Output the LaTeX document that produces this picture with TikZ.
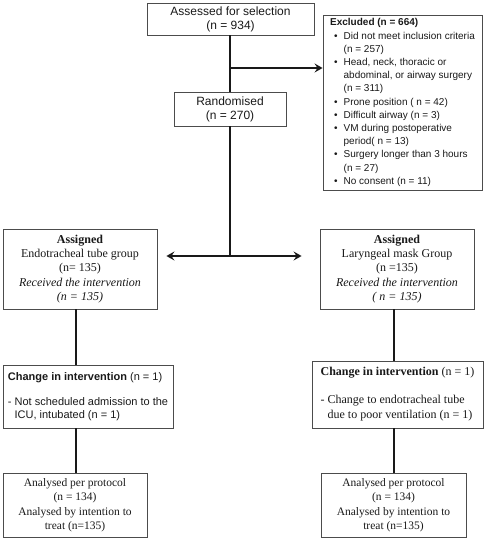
\documentclass[tikz,border=0pt]{standalone}
\usepackage{fontspec}
\setmainfont{Liberation Serif}
\newfontfamily\arialf{Liberation Sans}
\usetikzlibrary{arrows.meta}
\begin{document}
\begin{tikzpicture}[x=1pt,y=1pt,
  box/.style={draw=black!70, line width=0.9pt, inner sep=2pt, align=center, text=black!90},
  sansbox/.style={box, font=\arialf\fontsize{12}{14}\selectfont},
  serifbox/.style={box, font=\fontsize{12}{14.4}\selectfont},
  conn/.style={line width=2.2pt, draw=black!90},
  arr/.style={conn, -{Stealth[length=8pt,width=9pt,inset=3pt]}},
]
\useasboundingbox (0,0) rectangle (485,540);

% top
\node[sansbox, minimum width=167, minimum height=32] (assess) at (230.5,521) {Assessed for selection\\(n = 934)};
\node[sansbox, minimum width=112, minimum height=34] (rand) at (230,431) {Randomised\\(n = 270)};
\node[box, minimum width=159, minimum height=175, inner sep=0pt, font=\arialf\fontsize{10}{13.2}\selectfont] (excl) at (402.5,437.5) {%
\begin{tabular}{@{}l@{\hspace{6pt}}l@{}}
\multicolumn{2}{@{}l}{\textbf{Excluded (n = 664)}}\\
\hspace{4pt}\textbullet & Did not meet inclusion criteria\\
 & (n = 257)\\
\hspace{4pt}\textbullet & Head, neck, thoracic or\\
 & abdominal, or airway surgery\\
 & (n = 311)\\
\hspace{4pt}\textbullet & Prone position ( n = 42)\\
\hspace{4pt}\textbullet & Difficult airway (n = 3)\\
\hspace{4pt}\textbullet & VM during postoperative\\
 & period( n = 13)\\
\hspace{4pt}\textbullet & Surgery longer than 3 hours\\
 & (n = 27)\\
\hspace{4pt}\textbullet & No consent (n = 11)
\end{tabular}};

% assigned
\node[serifbox, minimum width=154, minimum height=80] (assL) at (80,271)
  {\textbf{Assigned}\\Endotracheal tube group\\(n= 135)\\\textit{Received the intervention}\\\textit{(n = 135)}};
\node[serifbox, minimum width=154, minimum height=80] (assR) at (397,271)
  {\textbf{Assigned}\\Laryngeal mask Group\\(n =135)\\\textit{Received the intervention}\\\textit{( n = 135)}};

% change
\node[box, minimum width=170, minimum height=63, align=left, font=\arialf\fontsize{11}{12.8}\selectfont] (chL) at (88,143.5)
  {\textbf{Change in intervention} (n = 1)\\[12pt]- Not scheduled admission to the\\\phantom{- }ICU, intubated (n = 1)};
\node[box, minimum width=171, minimum height=67, align=left, font=\fontsize{12}{15.5}\selectfont] (chR) at (397.5,145.5)
  {\textbf{Change in intervention} (n = 1)\\[12pt]- Change to endotracheal tube\\\phantom{- }due to poor ventilation (n = 1)};

% analysed
\node[serifbox, minimum width=144, minimum height=64, font=\fontsize{11.5}{14.5}\selectfont] (anL) at (75,35)
  {Analysed per protocol\\(n = 134)\\Analysed by intention to\\treat (n=135)};
\node[serifbox, minimum width=145, minimum height=64, font=\fontsize{11.5}{14.5}\selectfont] (anR) at (393.5,35)
  {Analysed per protocol\\(n = 134)\\Analysed by intention to\\treat (n=135)};

% connectors
\coordinate (split) at (230,284);
\coordinate (exclJ) at (230,472);
\coordinate (lx) at (76,0);
\coordinate (rx) at (394,0);
\draw[conn] (assess.south -| exclJ) -- (rand.north -| exclJ);
\draw[arr] (exclJ) -- (exclJ -| excl.west);
\draw[conn] (rand.south) -- (split);
\draw[arr, shorten >=9pt] (split) -- (split -| assL.east);
\draw[arr, shorten >=18pt] (split) -- (split -| assR.west);
\draw[conn] (assL.south -| lx) -- (chL.north -| lx);
\draw[conn] (chL.south -| lx) -- (anL.north -| lx);
\draw[conn] (assR.south -| rx) -- (chR.north -| rx);
\draw[conn] (chR.south -| rx) -- (anR.north -| rx);
\end{tikzpicture}
\end{document}
